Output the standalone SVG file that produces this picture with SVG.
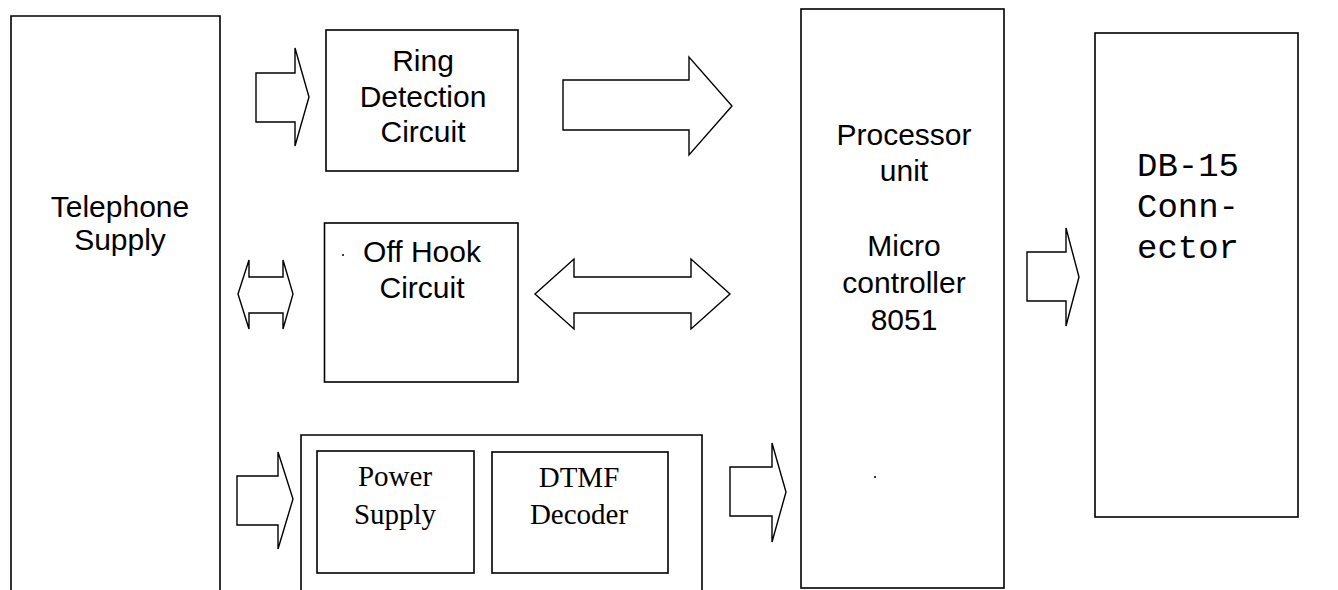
<svg xmlns="http://www.w3.org/2000/svg" width="1338" height="590" viewBox="0 0 1338 590">
  <style>
    .box { fill: #ffffff; stroke: #000000; stroke-width: 1.6; }
    .arrow { fill: #ffffff; stroke: #000000; stroke-width: 1.4; stroke-linejoin: miter; }
    .sans { font-family: "Liberation Sans", Arial, sans-serif; font-size: 30px; fill: #000000; text-anchor: middle; }
    .serif { font-family: "Liberation Serif", "Times New Roman", serif; font-size: 29px; fill: #000000; text-anchor: middle; }
    .mono { font-family: "Liberation Mono", "Courier New", monospace; font-size: 34px; fill: #000000; }
  </style>
  <rect x="0" y="0" width="1338" height="590" fill="#ffffff"/>

  <!-- block arrows between the units -->
  <g id="connectors">
    <path class="arrow" d="M256,73 H295 V48 L309,97 L295,146 V122 H256 Z"/>
    <path class="arrow" d="M563,80 H689 V57 L732,106 L689,155 V130 H563 Z"/>
    <path class="arrow" d="M238,294 L249,260 V277 H283 V260 L293,294 L283,329 V313 H249 V329 Z"/>
    <path class="arrow" d="M535,294 L574,259 V277 H691 V259 L730,294 L691,329 V313 H574 V329 Z"/>
    <path class="arrow" d="M237,476 H278 V452 L293,499 L278,549 V525 H237 Z"/>
    <path class="arrow" d="M730,467 H772 V443 L786,492 L772,542 V516 H730 Z"/>
    <path class="arrow" d="M1027,252 H1066 V228 L1079,277 L1066,326 V301 H1027 Z"/>
  </g>

  <g id="telephone-supply">
    <path class="box" d="M11,596 V16 H220 V596"/>
    <text class="sans" x="120" y="217">Telephone</text>
    <text class="sans" x="120" y="250">Supply</text>
  </g>

  <g id="ring-detection">
    <rect class="box" x="326" y="30" width="192" height="141"/>
    <text class="sans" x="423" y="71">Ring</text>
    <text class="sans" x="423" y="107">Detection</text>
    <text class="sans" x="423" y="142">Circuit</text>
  </g>

  <g id="off-hook">
    <rect class="box" x="324.5" y="223" width="193.5" height="159"/>
    <circle cx="343" cy="255" r="1" fill="#000000"/>
    <text class="sans" x="422" y="262">Off Hook</text>
    <text class="sans" x="422" y="298">Circuit</text>
  </g>

  <g id="supply-decoder">
    <path class="box" d="M301,596 V435 H702 V596"/>
    <g id="power-supply">
      <rect class="box" x="317" y="451" width="157" height="122"/>
      <text class="serif" x="395" y="486">Power</text>
      <text class="serif" x="395" y="524">Supply</text>
    </g>
    <g id="dtmf-decoder">
      <rect class="box" x="492" y="452" width="176" height="121"/>
      <text class="serif" x="579" y="487">DTMF</text>
      <text class="serif" x="579" y="524">Decoder</text>
    </g>
  </g>

  <g id="processor">
    <rect class="box" x="801" y="9" width="203" height="579"/>
    <text class="sans" x="904" y="145">Processor</text>
    <text class="sans" x="904" y="181">unit</text>
    <text class="sans" x="904" y="256">Micro</text>
    <text class="sans" x="904" y="293">controller</text>
    <text class="sans" x="904" y="330">8051</text>
    <circle cx="875" cy="477" r="1" fill="#000000"/>
  </g>

  <g id="db15">
    <rect class="box" x="1095" y="33" width="203" height="484"/>
    <text class="mono" x="1137" y="176">DB-15</text>
    <text class="mono" x="1137" y="217">Conn-</text>
    <text class="mono" x="1137" y="258">ector</text>
  </g>
</svg>
